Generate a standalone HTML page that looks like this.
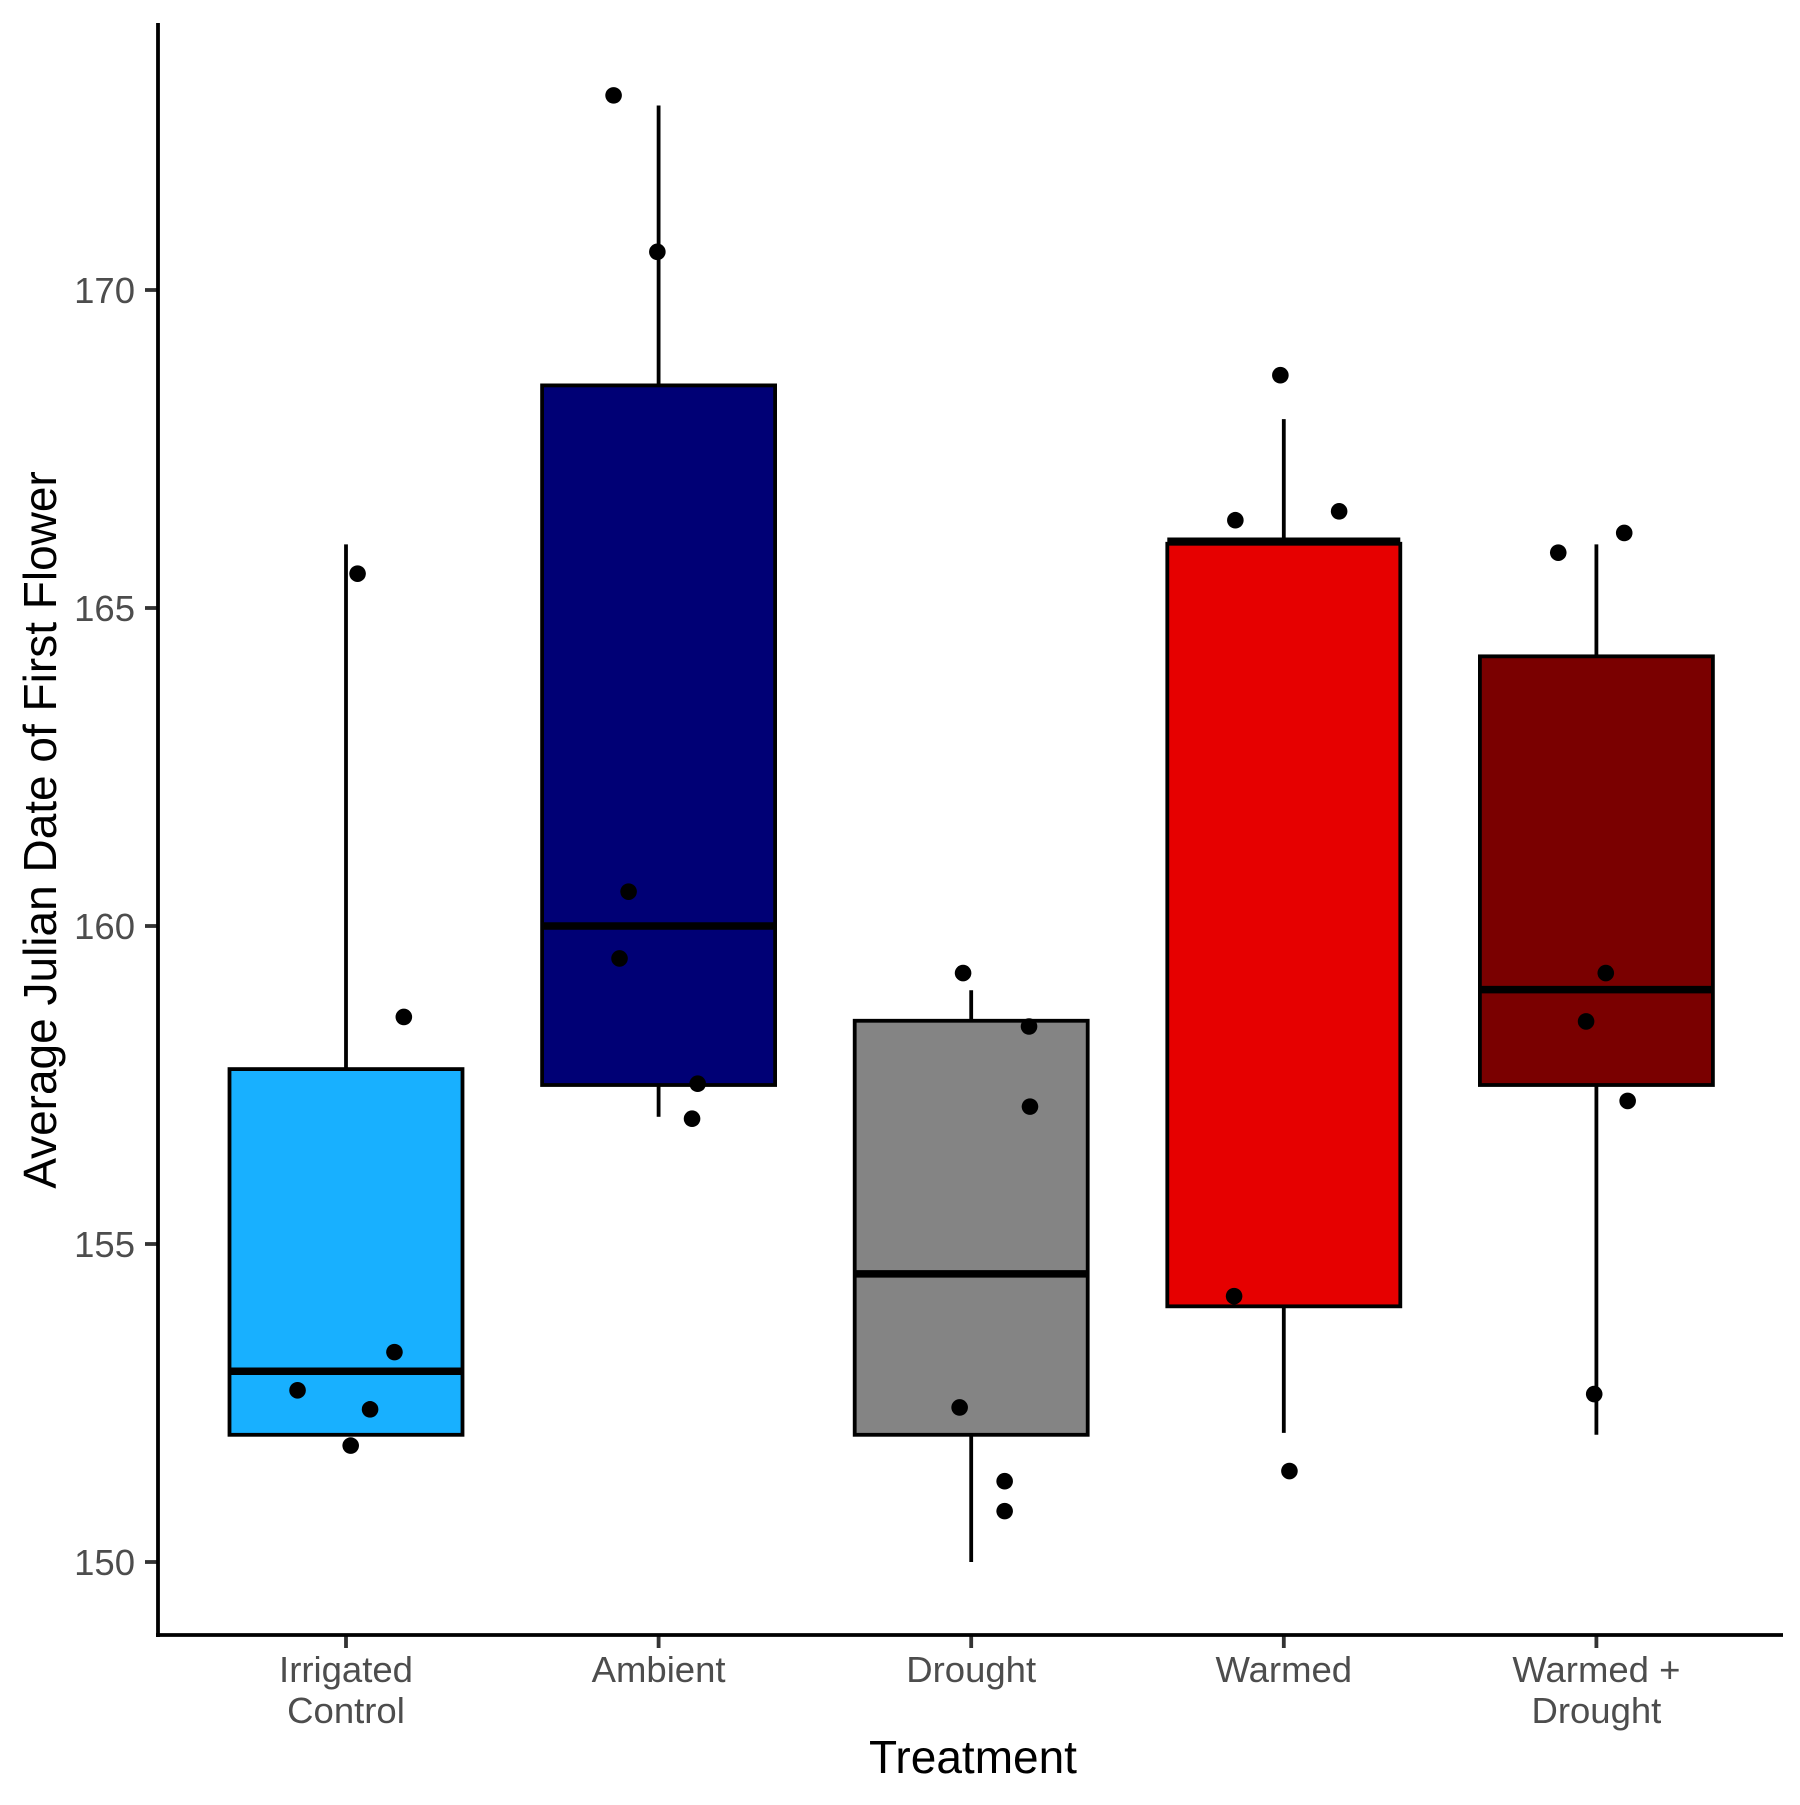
<!DOCTYPE html>
<html><head><meta charset="utf-8"><style>body{margin:0;background:#fff}svg text{font-family:"Liberation Sans",Arial,sans-serif}</style></head>
<body>
<svg id="chart" width="1800" height="1800" viewBox="0 0 1800 1800" xmlns="http://www.w3.org/2000/svg">
<g id="plot"></g>
</svg>
<script>
const categories = ["Irrigated\nControl","Ambient","Drought","Warmed","Warmed +\nDrought"];
const colors = ["#18B0FF","#000075","#848484","#E60000","#7A0000"];
const q1 = [152, 157.5, 152, 154.02, 157.5];
const medians = [153, 160, 154.53, 166.05, 159];
const q3 = [157.75, 168.5, 158.51, 166.01, 164.24];
const whiskLow = [152, 157, 150, 152.03, 152];
const whiskHigh = [166, 172.9, 158.99, 167.97, 166];
const pointVals = [
 [165.54,158.57,153.3,152.7,152.4,151.83],
 [173.06,170.6,160.54,159.49,157.52,156.97],
 [159.26,158.42,157.16,152.43,151.27,150.8],
 [168.66,166.52,166.38,154.18,151.43],
 [165.87,166.18,159.26,158.5,157.25,152.64]
];
const pointJitter = [
 [0.037,0.185,0.155,-0.155,0.077,0.015],
 [-0.144,-0.004,-0.096,-0.125,0.125,0.107],
 [-0.026,0.185,0.188,-0.037,0.107,0.107],
 [-0.011,0.177,-0.155,-0.159,0.018],
 [-0.122,0.089,0.030,-0.033,0.100,-0.007]
];
const yTicks = [150,155,160,165,170];

const NS="http://www.w3.org/2000/svg";
const g=document.getElementById('plot');
const y=v=>1562-(v-150)*63.6;
const x=i=>346+i*312.6;
const bw=233;
function mk(t,a){const e=document.createElementNS(NS,t);for(const k in a)e.setAttribute(k,a[k]);g.appendChild(e);return e;}

categories.forEach((c,i)=>{
  const cx=x(i);
  let e=mk('line',{x1:cx,x2:cx,y1:y(whiskHigh[i]),y2:y(q3[i]),stroke:'#000','stroke-width':3.8});
  
  
  e=mk('line',{x1:cx,x2:cx,y1:y(q1[i]),y2:y(whiskLow[i]),stroke:'#000','stroke-width':3.8});
  
  
  e=mk('rect',{x:cx-bw/2,y:y(q3[i]),width:bw,height:y(q1[i])-y(q3[i]),fill:colors[i],stroke:'#000','stroke-width':3.8});
  
  
  e=mk('line',{x1:cx-bw/2,x2:cx+bw/2,y1:y(medians[i]),y2:y(medians[i]),stroke:'#000','stroke-width':7.5});
  
  
  pointVals[i].forEach((v,j)=>{
    const p=mk('circle',{cx:cx+pointJitter[i][j]*312.6,cy:y(v),r:8.3,fill:'#000'});
    
    
  });
  e=mk('line',{x1:cx,x2:cx,y1:1635,y2:1648,stroke:'#333','stroke-width':3.8});
  
  
  const t=mk('text',{x:cx,y:1682,'font-size':36.5,fill:'#4D4D4D','text-anchor':'middle'});
  
  
  c.split('\n').forEach((ln,k)=>{const s=document.createElementNS(NS,'tspan');s.setAttribute('x',cx);s.setAttribute('dy',k?41:0);s.textContent=ln;t.appendChild(s);});
});
yTicks.forEach(v=>{
  let e=mk('line',{x1:145,x2:158,y1:y(v),y2:y(v),stroke:'#333','stroke-width':3.8});
  
  
  e=mk('text',{x:135,y:y(v)+13,'font-size':36.5,fill:'#4D4D4D','text-anchor':'end'});
  e.textContent=v;
  
  
});
let a=mk('line',{x1:158,x2:158,y1:23,y2:1637,stroke:'#000','stroke-width':3.8});


a=mk('line',{x1:156,x2:1783,y1:1635,y2:1635,stroke:'#000','stroke-width':3.8});


a=mk('text',{x:973,y:1773,'font-size':46,fill:'#000','text-anchor':'middle'});
a.textContent='Treatment';


a=mk('text',{x:0,y:0,'font-size':46,fill:'#000','text-anchor':'middle',transform:'translate(56,830) rotate(-90)'});
a.textContent='Average Julian Date of First Flower';


</script>
</body></html>
